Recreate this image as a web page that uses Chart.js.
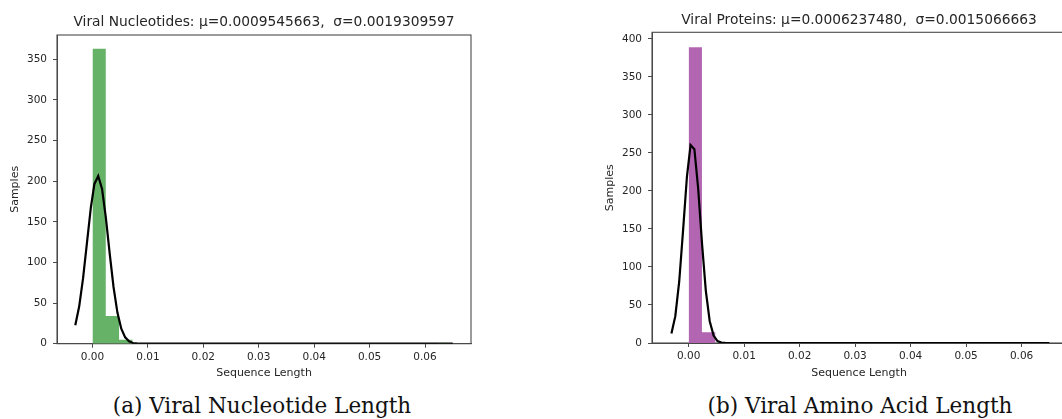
<!DOCTYPE html>
<html>
<head>
<meta charset="utf-8">
<title>Viral sequence length distributions</title>
<script src="https://cdn.jsdelivr.net/npm/chart.js@4.4.1/dist/chart.umd.min.js"></script>
<style>
  html, body { margin: 0; padding: 0; background: #fff; width: 1062px; height: 419px; overflow: hidden; position: relative; }
  .panel { position: absolute; top: 0; width: 531px; height: 381px; }
  .cap { position: absolute; top: 393px; font-family: "DejaVu Serif", serif; font-size: 21.5px; line-height: 26px;
         color: #111; white-space: nowrap; transform: translateX(-50%); }
</style>
</head>
<body>
<div class="panel" style="left:0px"><canvas id="nucChart"></canvas></div>
<div class="panel" style="left:595px"><canvas id="protChart"></canvas></div>
<div class="cap" style="left:262px">(a) Viral Nucleotide Length</div>
<div class="cap" style="left:860px">(b) Viral Amino Acid Length</div>
<script>
// ---- data ----
const xTickValues = [0, 0.01, 0.02, 0.03, 0.04, 0.05, 0.06];
const nucYTicks = [0, 50, 100, 150, 200, 250, 300, 350];
const protYTicks = [0, 50, 100, 150, 200, 250, 300, 350, 400];

// histogram bins start at 0 with a fixed width
const binWidth = 0.0024;
const nucCounts  = [363, 34, 5, 0, 0, 0, 0, 0, 0, 0, 0, 0, 0, 0, 0, 0, 0, 0, 0, 0, 0, 0, 0, 0, 0, 0, 1];
const protCounts = [389, 14, 0, 0, 0, 0, 0, 0, 0, 0, 0, 0, 0, 0, 0, 0, 0, 0, 0, 0, 0, 0, 0, 0, 0, 0, 1];

// fitted normal density curve
const curveX    = [-0.0031, -0.0024, -0.0017, -0.0010, -0.0003, 0.00035, 0.00104, 0.00173, 0.00242, 0.0031,
                   0.0038, 0.0045, 0.0052, 0.0059, 0.0066, 0.0073, 0.0080, 0.0087, 0.0094, 0.02, 0.03, 0.04, 0.05, 0.065];
const nucCurve  = [22.8, 45.7, 80.3, 123.8, 167.3, 196.7, 206.4, 190.6, 154.9, 111.5,
                   69.8, 38.3, 18.4, 7.8, 2.9, 0.9, 0.3, 0.1, 0, 0, 0, 0, 0, 0];
const protCurve = [12.5, 35.3, 80.6, 148.1, 219.4, 260.4, 254.9, 202.3, 130.1, 68.6,
                   28.7, 9.7, 2.6, 0.6, 0.1, 0, 0, 0, 0, 0, 0, 0, 0, 0];

const nucTitle  = 'Viral Nucleotides: \u03bc=0.0009545663,  \u03c3=0.0019309597';
const protTitle = 'Viral Proteins: \u03bc=0.0006237480,  \u03c3=0.0015066663';
const xLabel = 'Sequence Length';
const yLabel = 'Samples';

// ---- drawing ----
const SANS = '"DejaVu Sans", sans-serif';
const TEXT = '#262626';
const AXIS = '#4a4a4a';

// full box around the plotting area
const framePlugin = {
  id: 'frame',
  beforeDatasetsDraw(chart) {
    const { ctx, chartArea: a } = chart;
    ctx.save();
    ctx.strokeStyle = AXIS;
    ctx.lineWidth = 1.1;
    ctx.strokeRect(a.left, a.top, a.right - a.left, a.bottom - a.top);
    ctx.restore();
  }
};

function histPoints(counts) {
  const pts = counts.map((c, i) => ({ x: i * binWidth, y: c }));
  pts.push({ x: counts.length * binWidth, y: 0 });
  return pts;
}

function buildChart(id, opts) {
  const canvasH = 381;
  const titleSize = 13.8, titleLH = titleSize * 1.2;
  return new Chart(document.getElementById(id), {
    type: 'line',
    data: {
      datasets: [
        {
          data: curveX.map((x, i) => ({ x, y: opts.curve[i] })),
          borderColor: '#000',
          borderWidth: 2.2,
          pointRadius: 0,
          tension: 0,
          fill: false,
          order: 0
        },
        {
          data: histPoints(opts.counts),
          stepped: 'before',
          borderWidth: 0,
          borderColor: 'rgba(0,0,0,0)',
          backgroundColor: opts.color,
          pointRadius: 0,
          fill: 'origin',
          order: 1
        }
      ]
    },
    options: {
      responsive: true,
      maintainAspectRatio: false,
      animation: false,
      events: [],
      layout: { padding: { left: 0, right: 60, top: 0, bottom: 0 } },
      plugins: {
        legend: { display: false },
        tooltip: { enabled: false },
        title: {
          display: true,
          fullSize: false,
          text: opts.title,
          color: TEXT,
          font: { family: SANS, size: titleSize, weight: 'normal', lineHeight: 1.2 },
          padding: { top: opts.titleMid - titleLH / 2, bottom: opts.areaTop - opts.titleMid - titleLH / 2 }
        }
      },
      scales: {
        x: {
          type: 'linear',
          min: opts.xMin,
          max: opts.xMax,
          afterBuildTicks: s => { s.ticks = xTickValues.map(v => ({ value: v })); },
          afterFit: s => { s.height = canvasH - opts.areaBottom; },
          ticks: {
            color: TEXT, padding: 3, maxRotation: 0, autoSkip: false,
            font: { family: SANS, size: 10.5 },
            callback: v => Number(v).toFixed(2)
          },
          grid: { display: true, drawOnChartArea: false, drawTicks: true, tickLength: 4, color: AXIS },
          border: { display: true, color: AXIS, width: 1 },
          title: {
            display: true, text: xLabel, color: TEXT,
            font: { family: SANS, size: 11 }, padding: { top: 0, bottom: 1.7 }
          }
        },
        y: {
          type: 'linear',
          min: 0,
          max: opts.yMax,
          afterBuildTicks: s => { s.ticks = opts.yTicks.map(v => ({ value: v })); },
          afterFit: s => { s.width = 57; },
          ticks: {
            color: TEXT, padding: 6, autoSkip: false,
            font: { family: SANS, size: 10.5 },
            callback: v => String(v)
          },
          grid: { display: true, drawOnChartArea: false, drawTicks: true, tickLength: 4, color: AXIS },
          border: { display: true, color: AXIS, width: 1 },
          title: {
            display: true, text: yLabel, color: TEXT,
            font: { family: SANS, size: 11 }, padding: { top: 8.4, bottom: 0 }
          }
        }
      }
    },
    plugins: [framePlugin]
  });
}

buildChart('nucChart', {
  title: nucTitle, counts: nucCounts, curve: nucCurve, color: '#66b266',
  xMin: -0.0064, xMax: 0.0683, yMax: 380, yTicks: nucYTicks,
  areaTop: 35, titleMid: 22, areaBottom: 343.7
});
buildChart('protChart', {
  title: protTitle, counts: protCounts, curve: protCurve, color: '#b266b2',
  xMin: -0.0066, xMax: 0.068, yMax: 408.8, yTicks: protYTicks,
  areaTop: 32.3, titleMid: 20, areaBottom: 343
});
</script>
</body>
</html>
